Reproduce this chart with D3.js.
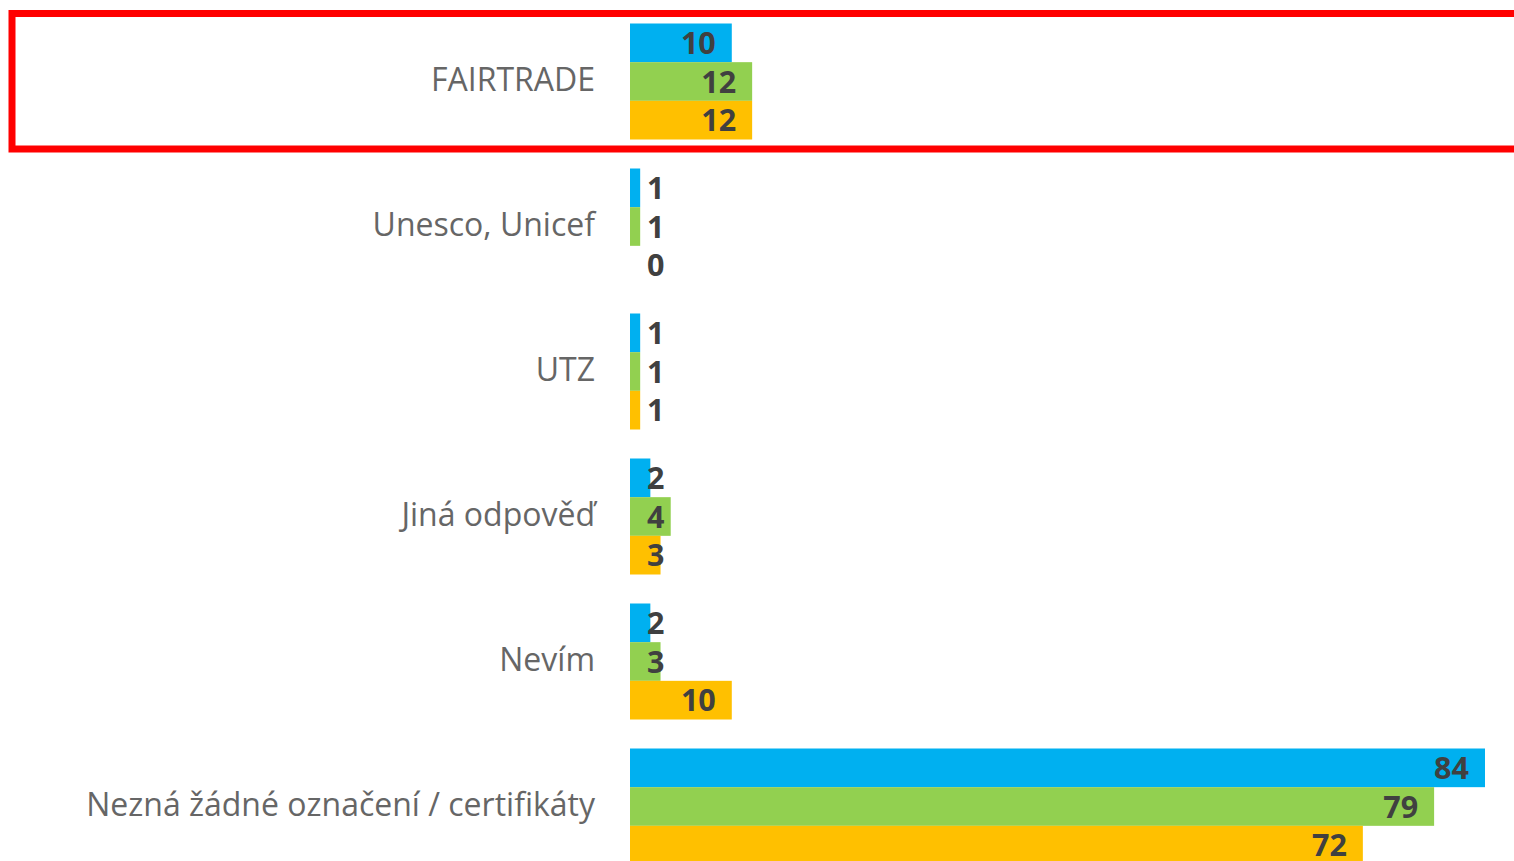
<!DOCTYPE html>
<html lang="cs">
<head>
<meta charset="UTF-8">
<style>
  body { margin: 0; background: #fff; }
  svg { display: block; }
  .cat { font: 32px "Open Sans", sans-serif; fill: #666666; }
  .val { font: bold 30.5px "Open Sans", sans-serif; fill: #404040; }
</style>
</head>
<body>
<script src="https://cdn.jsdelivr.net/npm/d3@7"></script>
<script>
var categories = ["FAIRTRADE", "Unesco, Unicef", "UTZ", "Jiná odpověď", "Nevím", "Nezná žádné označení / certifikáty"];
var seriesNames = ["s1", "s2", "s3"];
var s1 = [10, 1, 1, 2, 2, 84];
var s2 = [12, 1, 1, 4, 3, 79];
var s3 = [12, 0, 1, 3, 10, 72];
var colors = ["#00B0F0", "#92D050", "#FFC000"];

var width = 1514, height = 861;
var series = [s1, s2, s3];

var svg = d3.select("body").append("svg").attr("width", width).attr("height", height);

var x = d3.scaleLinear().domain([0, 84]).range([630, 1485]);
var y0 = d3.scaleBand().domain(categories).range([9, 879]).paddingInner(0.2).paddingOuter(0.1);
var y1 = d3.scaleBand().domain(seriesNames).range([0, y0.bandwidth()]);

// highlight frame round the first category
svg.append("rect")
  .attr("x", 12).attr("y", 13.5)
  .attr("width", 1600).attr("height", 135.5)
  .attr("fill", "none").attr("stroke", "#FF0000").attr("stroke-width", 7);

var groups = svg.selectAll("g.grp")
  .data(categories)
  .enter().append("g")
    .attr("class", "grp")
    .attr("transform", function(d){ return "translate(0," + y0(d) + ")"; });

groups.append("text")
  .attr("class", "cat")
  .attr("x", 595)
  .attr("y", y0.bandwidth() / 2)
  .attr("dy", "0.3em")
  .attr("text-anchor", "end")
  .text(function(d){ return d; });

groups.each(function(c, ci) {
  var g = d3.select(this);
  var rows = seriesNames.map(function(s, si){ return {s: s, v: series[si][ci], color: colors[si]}; });

  g.selectAll("rect.bar")
    .data(rows.filter(function(r){ return r.v > 0; }))
    .enter().append("rect")
      .attr("class", "bar")
      .attr("x", x(0))
      .attr("y", function(r){ return y1(r.s); })
      .attr("width", function(r){ return x(r.v) - x(0); })
      .attr("height", y1.bandwidth())
      .attr("fill", function(r){ return r.color; });

  g.selectAll("text.val")
    .data(rows)
    .enter().append("text")
      .attr("class", "val")
      .attr("y", function(r){ return y1(r.s) + y1.bandwidth() / 2; })
      .attr("dy", "0.37em")
      .text(function(r){ return r.v; })
      .attr("x", function(r){
        var w = this.getComputedTextLength();
        return Math.max(x(0) + 17, x(r.v) - 16 - w);
      });
});
</script>
</body>
</html>
